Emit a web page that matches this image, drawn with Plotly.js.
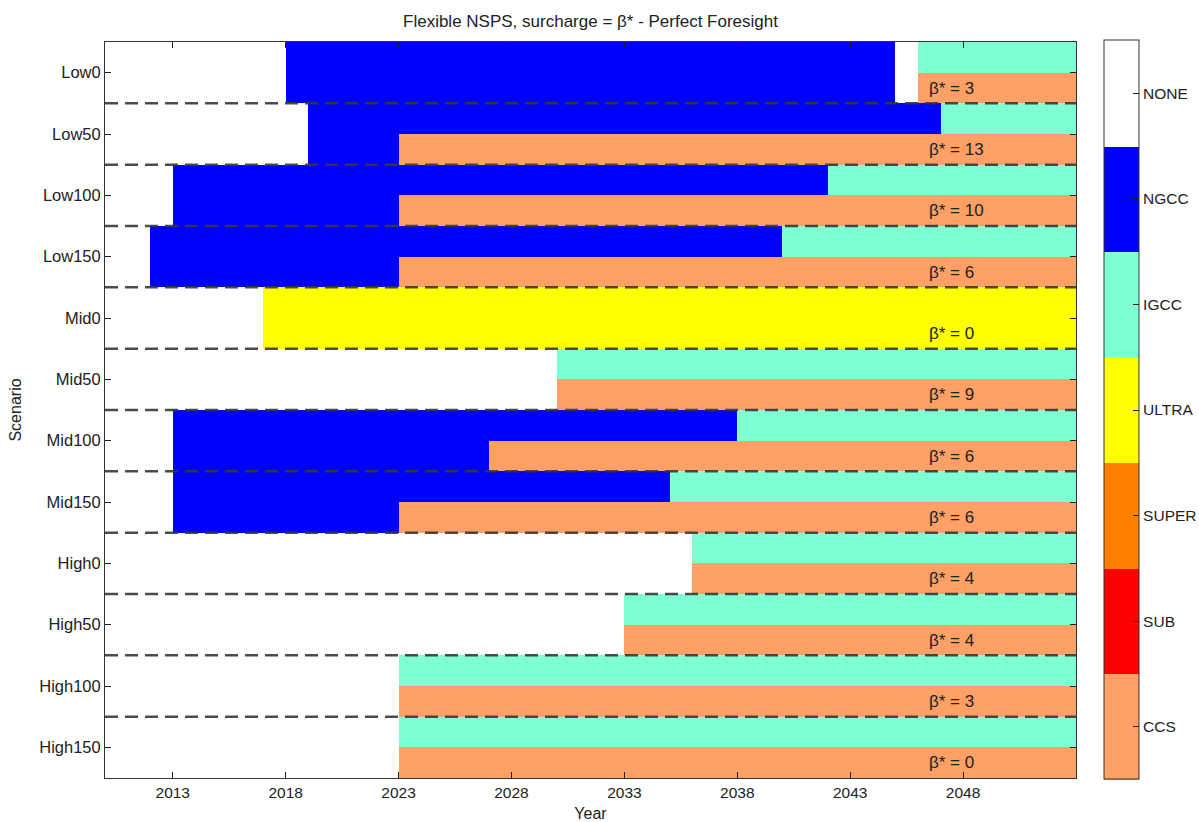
<!DOCTYPE html>
<html>
<head>
<meta charset="utf-8">
<script src="https://cdn.plot.ly/plotly-3.0.1.min.js"></script>
<style>
  html, body { margin: 0; padding: 0; background: #fff; }
  #chart { width: 1199px; height: 822px; }
</style>
</head>
<body>
<div id="chart"></div>
<script>
// Scenarios, top to bottom
const scenarios = ['Low0', 'Low50', 'Low100', 'Low150', 'Mid0', 'Mid50', 'Mid100', 'Mid150',
                   'High0', 'High50', 'High100', 'High150'];

// Build decisions per scenario: [technology, first year] for the upper row ...
const upperRow = [
  [['NONE', 2010], ['NGCC', 2018], ['NONE', 2045], ['IGCC', 2046]],
  [['NONE', 2010], ['NGCC', 2019], ['IGCC', 2047]],
  [['NONE', 2010], ['NGCC', 2013], ['IGCC', 2042]],
  [['NONE', 2010], ['NGCC', 2012], ['IGCC', 2040]],
  [['NONE', 2010], ['ULTRA', 2017]],
  [['NONE', 2010], ['IGCC', 2030]],
  [['NONE', 2010], ['NGCC', 2013], ['IGCC', 2038]],
  [['NONE', 2010], ['NGCC', 2013], ['IGCC', 2035]],
  [['NONE', 2010], ['IGCC', 2036]],
  [['NONE', 2010], ['IGCC', 2033]],
  [['NONE', 2010], ['IGCC', 2023]],
  [['NONE', 2010], ['IGCC', 2023]]
];

// ... and for the lower row
const lowerRow = [
  [['NONE', 2010], ['NGCC', 2018], ['NONE', 2045], ['CCS', 2046]],
  [['NONE', 2010], ['NGCC', 2019], ['CCS', 2023]],
  [['NONE', 2010], ['NGCC', 2013], ['CCS', 2023]],
  [['NONE', 2010], ['NGCC', 2012], ['CCS', 2023]],
  [['NONE', 2010], ['ULTRA', 2017]],
  [['NONE', 2010], ['CCS', 2030]],
  [['NONE', 2010], ['NGCC', 2013], ['CCS', 2027]],
  [['NONE', 2010], ['NGCC', 2013], ['CCS', 2023]],
  [['NONE', 2010], ['CCS', 2036]],
  [['NONE', 2010], ['CCS', 2033]],
  [['NONE', 2010], ['CCS', 2023]],
  [['NONE', 2010], ['CCS', 2023]]
];

// Optimal surcharge per scenario
const betaStar = [3, 13, 10, 6, 0, 9, 6, 6, 4, 4, 3, 0];

// Technology legend, bottom to top on the colour bar
const techNames  = ['CCS', 'SUB', 'SUPER', 'ULTRA', 'IGCC', 'NGCC', 'NONE'];
const techColors = ['#FFA066', '#FF0000', '#FF8000', '#FFFF00', '#7FFFD4', '#0000FF', '#FFFFFF'];

const startYear = 2010;
const endYear = 2053;

// Year edges of the grid cells
const xEdges = [];
for (let yr = startYear; yr <= endYear; yr++) xEdges.push(yr);

// Row edges: each scenario k spans k-0.5 .. k+0.5, split into an upper and a lower half
const yEdges = [];
for (let e = 0; e <= scenarios.length * 2; e++) yEdges.push(0.5 + e * 0.5);

function techAt(segments, year) {
  let t = segments[0][0];
  for (const [name, from] of segments) if (from <= year) t = name;
  return techNames.indexOf(t) + 1;
}

const z = [];
scenarios.forEach((s, k) => {
  [upperRow[k], lowerRow[k]].forEach(segs => {
    const row = [];
    for (let c = 0; c < xEdges.length - 1; c++) row.push(techAt(segs, xEdges[c]));
    z.push(row);
  });
});

// Stepped colour scale so every technology gets one flat colour
const n = techNames.length;
const colorscale = [];
techColors.forEach((col, i) => {
  colorscale.push([i / n, col]);
  colorscale.push([(i + 1) / n, col]);
});

const FONT = 'Liberation Sans, Arial, sans-serif';
const INK = '#222';

const heat = {
  type: 'heatmap',
  x: xEdges,
  y: yEdges,
  z: z,
  zmin: 0.5,
  zmax: n + 0.5,
  colorscale: colorscale,
  zsmooth: false,
  hoverinfo: 'skip',
  colorbar: {
    x: 1.0288, xanchor: 'left', xpad: 0,
    y: 0.5, yanchor: 'middle', ypad: 0,
    len: 1.004, lenmode: 'fraction',
    thickness: 35,
    outlinewidth: 1, outlinecolor: '#333',
    tickmode: 'array',
    tickvals: techNames.map((_, i) => i + 1),
    ticktext: techNames,
    ticks: 'inside', ticklen: 6, tickcolor: INK,
    tickfont: { family: FONT, size: 15.5, color: INK }
  }
};

// Dashed separators between scenarios
const shapes = [];
for (let k = 1; k < scenarios.length; k++) {
  shapes.push({
    type: 'line', xref: 'paper', x0: 0, x1: 1, yref: 'y', y0: k + 0.5, y1: k + 0.5,
    line: { color: 'rgba(55,55,55,0.9)', width: 2.5, dash: '13px,7px' },
    layer: 'above'
  });
}

// Surcharge labels in each scenario's lower row
const annotations = betaStar.map((b, k) => ({
  x: 2046.4, y: k + 1 + 0.25, xref: 'x', yref: 'y',
  xanchor: 'left', yanchor: 'middle',
  text: 'β* = ' + b, showarrow: false,
  font: { family: FONT, size: 17, color: INK }
}));

const layout = {
  width: 1199, height: 822,
  margin: { l: 105, r: 123, t: 42, b: 44, autoexpand: false },
  paper_bgcolor: '#fff', plot_bgcolor: '#fff',
  title: {
    text: 'Flexible NSPS, surcharge = β* - Perfect Foresight',
    x: 0.4925, xanchor: 'center', y: 0.975, yanchor: 'middle',
    font: { family: FONT, size: 17, color: INK }
  },
  xaxis: {
    range: [startYear, endYear],
    tickmode: 'array',
    tickvals: [2013, 2018, 2023, 2028, 2033, 2038, 2043, 2048],
    ticks: 'inside', ticklen: 6, tickcolor: INK,
    showline: true, linecolor: '#333', linewidth: 1, mirror: 'ticks',
    showgrid: false, zeroline: false,
    tickfont: { family: FONT, size: 15.5, color: INK },
    title: { text: 'Year', standoff: 9, font: { family: FONT, size: 16, color: INK } },
    automargin: false
  },
  yaxis: {
    range: [scenarios.length + 0.5, 0.5],
    tickmode: 'array',
    tickvals: scenarios.map((_, i) => i + 1),
    ticktext: scenarios,
    ticks: 'inside', ticklen: 6, tickcolor: INK,
    showline: true, linecolor: '#333', linewidth: 1, mirror: 'ticks',
    showgrid: false, zeroline: false,
    tickfont: { family: FONT, size: 16.5, color: INK },
    title: { text: 'Scenario', standoff: 13, font: { family: FONT, size: 16, color: INK } },
    automargin: false
  },
  shapes: shapes,
  annotations: annotations,
  showlegend: false
};

Plotly.newPlot('chart', [heat], layout, { displayModeBar: false, staticPlot: true });
</script>
</body>
</html>
